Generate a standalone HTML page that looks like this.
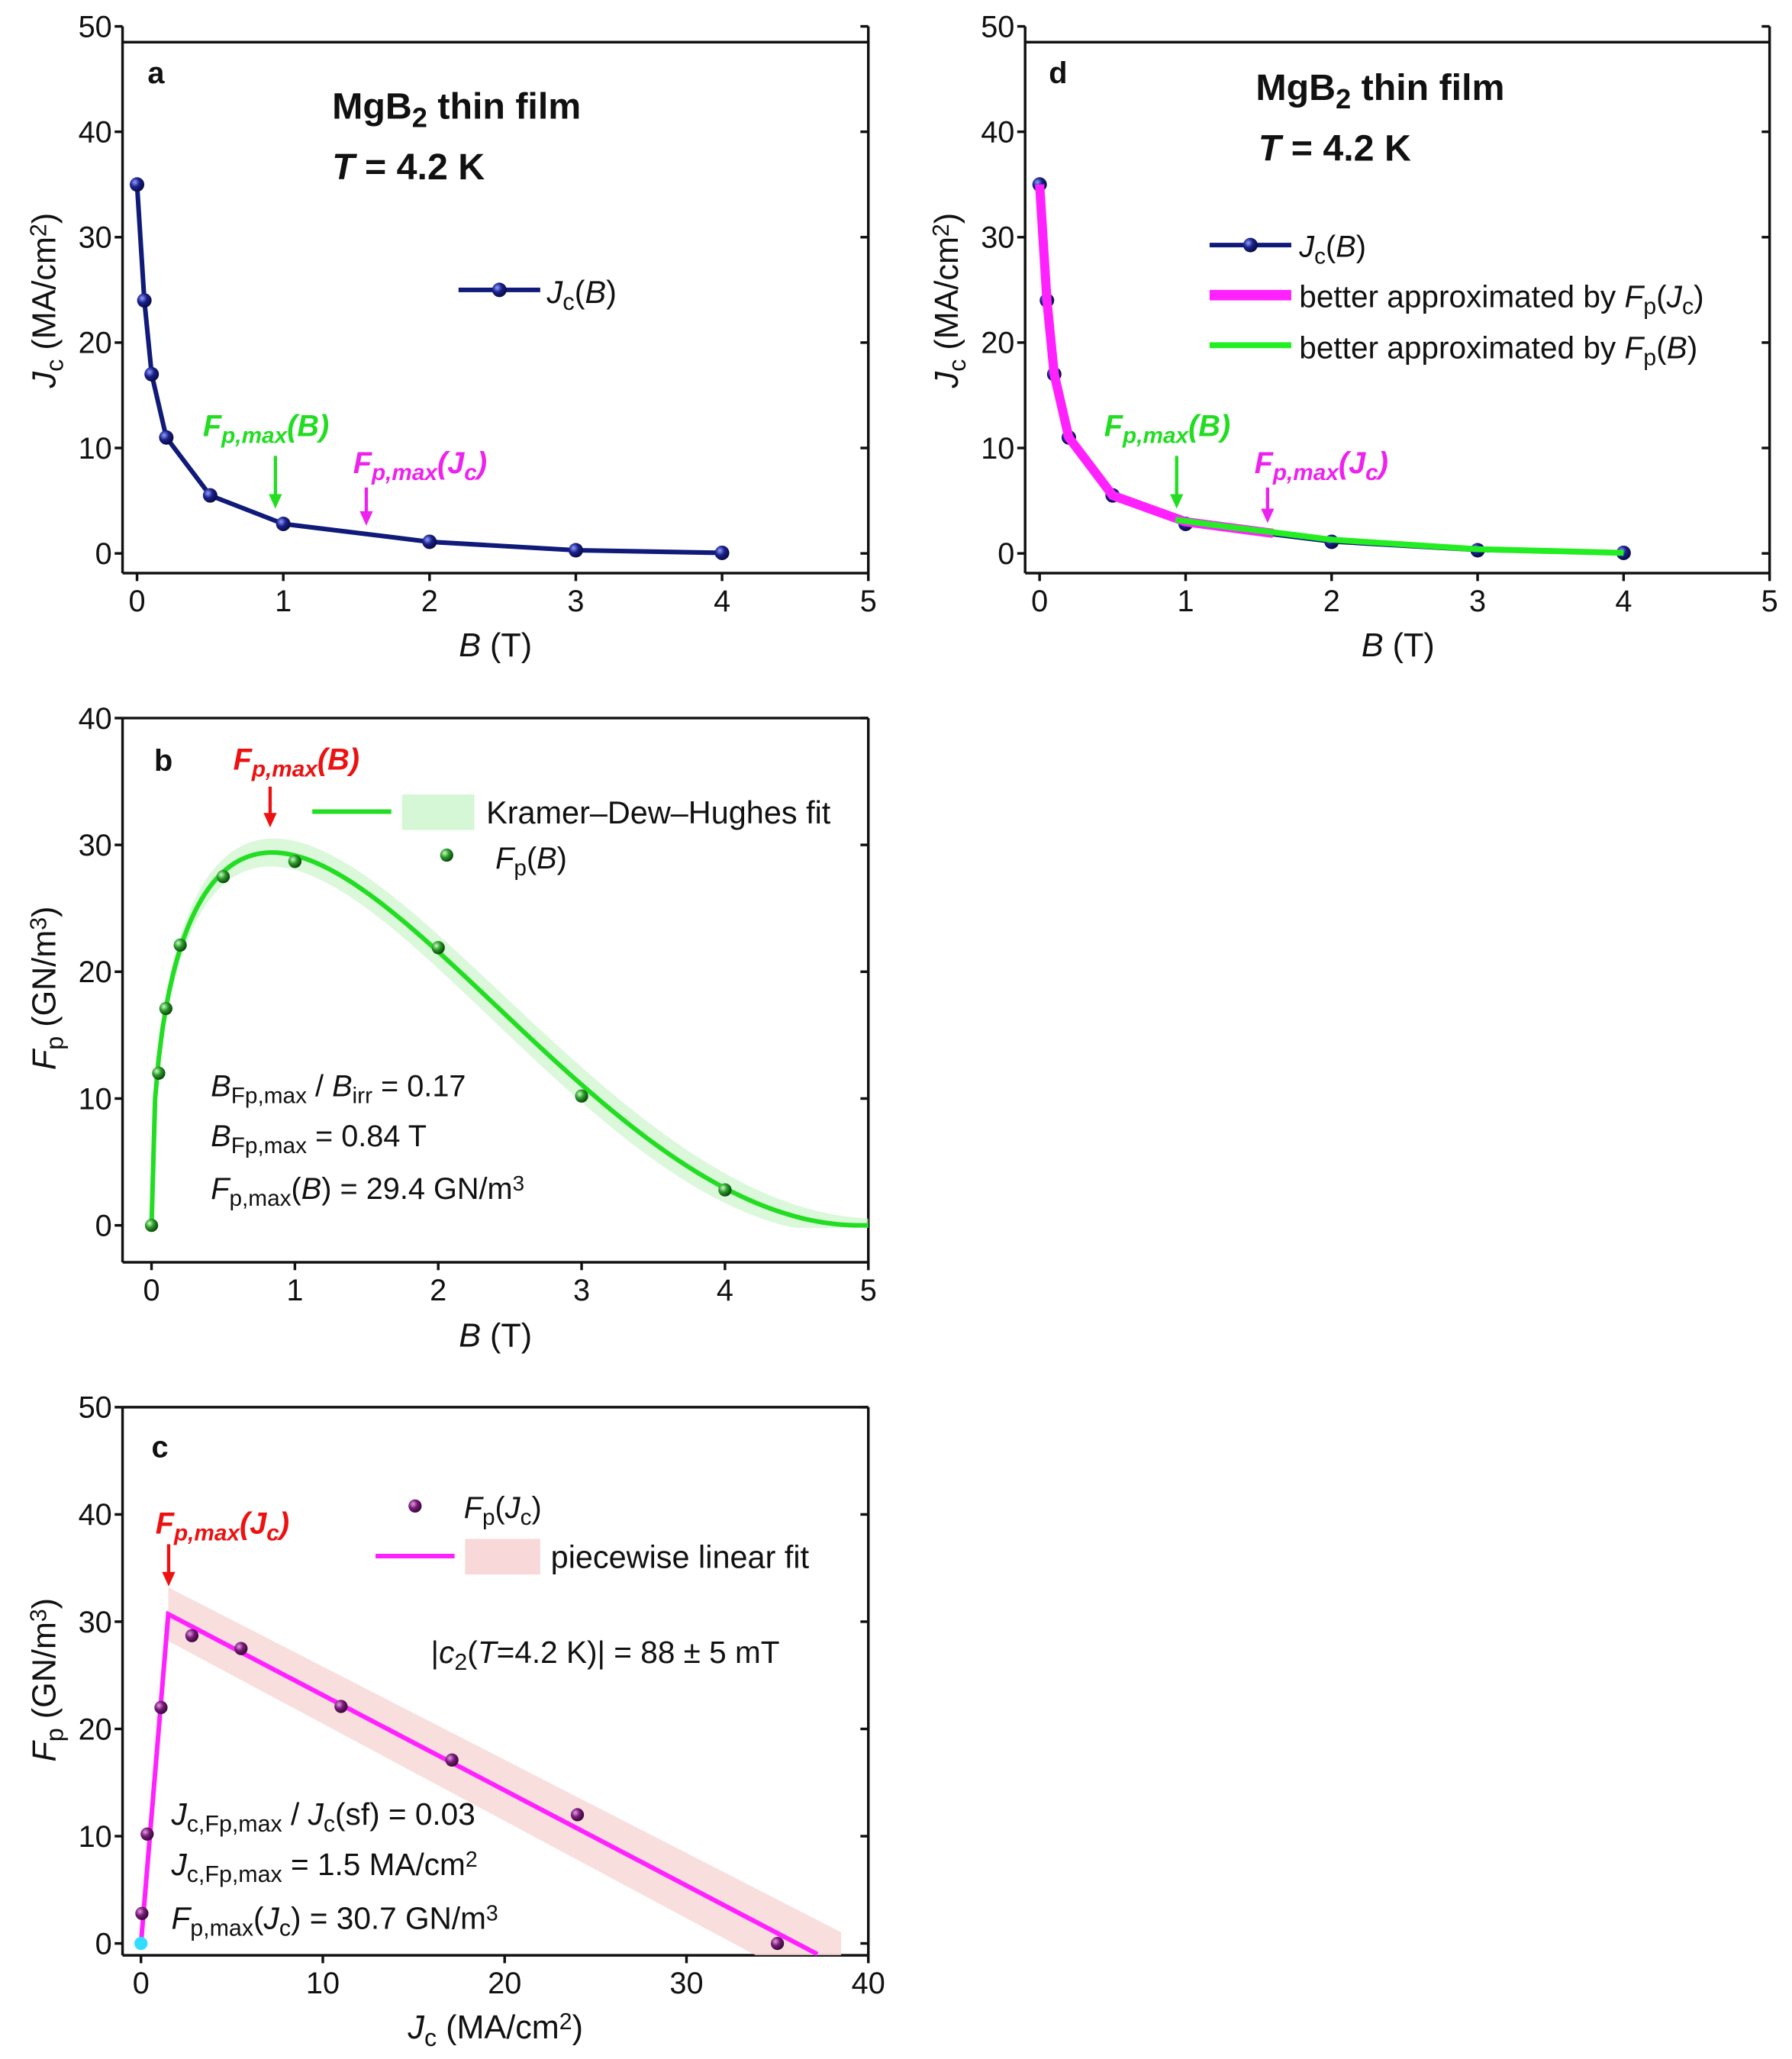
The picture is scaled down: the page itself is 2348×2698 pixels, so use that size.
<!DOCTYPE html>
<html><head><meta charset="utf-8"><style>
html,body{margin:0;padding:0;background:#fff}
svg{display:block}
text{font-family:"Liberation Sans",Arial,sans-serif;fill:#111}
</style></head><body>
<svg id="fig" width="2348" height="2698" viewBox="0 0 1360 1562.7" xmlns="http://www.w3.org/2000/svg">
<defs>
<radialGradient id="gNavy" cx="35%" cy="35%" r="65%"><stop offset="0" stop-color="#8fa0ff"/><stop offset="0.5" stop-color="#1a1f8a"/><stop offset="1" stop-color="#0a0d45"/></radialGradient>
<radialGradient id="gGreen" cx="35%" cy="35%" r="65%"><stop offset="0" stop-color="#c8ffc0"/><stop offset="0.5" stop-color="#2a9a2a"/><stop offset="1" stop-color="#0c4a0c"/></radialGradient>
<radialGradient id="gPurple" cx="35%" cy="35%" r="65%"><stop offset="0" stop-color="#e0a0e0"/><stop offset="0.5" stop-color="#7a1a7a"/><stop offset="1" stop-color="#3a0a3a"/></radialGradient>
</defs>
<g id="root"></g>
</svg>
<script>
// ---- data ----
const bField = [0, 0.05, 0.1, 0.2, 0.5, 1, 2, 3, 4];
const jcValues = [35, 24, 17, 11, 5.5, 2.8, 1.1, 0.3, 0.05];
const fpBValues = [0, 12, 17.1, 22.1, 27.5, 28.7, 21.9, 10.2, 2.8];
const jcC = [0, 0.05, 0.34, 1.1, 2.8, 5.5, 11, 17.1, 24, 35];
const fpC = [0, 2.8, 10.2, 22, 28.7, 27.5, 22.1, 17.1, 12, 0];
const magentaB = [0, 0.05, 0.1, 0.2, 0.5, 1, 1.6];
const magentaJ = [35, 24, 17, 11, 5.5, 3.0, 1.9];
const greenB = [0.93, 1.3, 1.6, 2, 3, 4];
const greenJ = [3.2, 2.5, 2.0, 1.3, 0.4, 0.05];
const kdhParams = [29.4, 4.94, 0.41, 2.0]; // Fmax, Birr, p, q
const pwlKnots = [0, 1.5, 37.2];
const pwlVals = [0, 30.7, -1];
const ticksA = [0,10,20,30,40,50];
const ticksB5 = [0,1,2,3,4,5];
const ticksBy = [0,10,20,30,40];
const ticksCx = [0,10,20,30,40];

const NS = "http://www.w3.org/2000/svg";
const root = document.getElementById('root');
function el(tag, attrs, parent, txt){
  const e = document.createElementNS(NS, tag);
  for (const k in attrs) e.setAttribute(k, attrs[k]);
  if (txt !== undefined) e.textContent = txt;
  (parent||root).appendChild(e);
  return e;
}
function lin(d0,d1,r0,r1){return v=>r0+(v-d0)*(r1-r0)/(d1-d0);}

function axes(g, o){
  el('line',{x1:o.left,y1:o.axTop,x2:o.left,y2:o.bottom,stroke:'#111','stroke-width':2},g);
  el('line',{x1:o.right,y1:o.axTop,x2:o.right,y2:o.bottom,stroke:'#111','stroke-width':2},g);
  el('line',{x1:o.left,y1:o.bottom,x2:o.right,y2:o.bottom,stroke:'#111','stroke-width':2},g);
  el('line',{x1:o.left,y1:o.top,x2:o.right,y2:o.top,stroke:'#111','stroke-width':2},g);
  o.yt.forEach(v=>{
    const y=o.ys(v);
    el('line',{x1:o.left-6,y1:y,x2:o.left,y2:y,stroke:'#111','stroke-width':2},g);
    el('line',{x1:o.right-6,y1:y,x2:o.right,y2:y,stroke:'#111','stroke-width':2},g);
    const t=el('text',{x:o.left-8,y:y+8,'text-anchor':'end','font-size':23},g,String(v));
    
    
  });
  o.xt.forEach(v=>{
    const x=o.xs(v);
    el('line',{x1:x,y1:o.bottom,x2:x,y2:o.bottom+6,stroke:'#111','stroke-width':2},g);
    const t=el('text',{x:x,y:o.bottom+29,'text-anchor':'middle','font-size':23},g,String(v));
    
    
  });
}
function rich(g, x, y, parts, attrs){
  const t=el('text',Object.assign({x:x,y:y},attrs||{}),g);
  parts.forEach(p=>{
    const s=el('tspan',{},t,p[0]);
    if(p[1]&&p[1].includes('i')) s.setAttribute('font-style','italic');
    if(p[1]&&p[1].includes('sub')){s.setAttribute('baseline-shift','-30%');s.setAttribute('font-size','0.75em');}
    if(p[1]&&p[1].includes('sup')){s.setAttribute('baseline-shift','40%');s.setAttribute('font-size','0.7em');}
  });
  return t;
}
function marker(g,x,y,fill,r){
  const c=el('circle',{cx:x,cy:y,r:r||5.5,fill:fill},g);
  
  
  return c;
}
function arrow(g,x,y1,y2,color){
  el('line',{x1:x,y1:y1,x2:x,y2:y2-9,stroke:color,'stroke-width':2.5},g);
  el('polygon',{points:`${x-5},${y2-11} ${x+5},${y2-11} ${x},${y2}`,fill:color},g);
}
function ytitle(g,x,cy,parts){
  return rich(g,0,0,parts,{'font-size':25,'text-anchor':'middle',transform:`translate(${x},${cy}) rotate(-90)`});
}

// ================= Panel a =================
(function(){
  const g=el('g',{});
  
  
  const xs=lin(0,5,104,659), ys=lin(0,50,420,20);
  axes(g,{left:93,right:659,top:32,axTop:20,bottom:435,xs,ys,xt:ticksB5,yt:ticksA});
  let d=bField.map((b,i)=>(i?'L':'M')+xs(b)+','+ys(jcValues[i])).join(' ');
  const p=el('path',{d:d,fill:'none',stroke:'#101a78','stroke-width':3.5},g);
  
  
  bField.forEach((b,i)=>marker(g,xs(b),ys(jcValues[i]),'url(#gNavy)'));
  el('text',{x:112,y:63,'font-size':23,'font-weight':'bold'},g,'a');
  rich(g,252,90,[['MgB'],['2','sub'],[' thin film']],{'font-size':28,'font-weight':'bold'});
  rich(g,252,136,[['T','i'],[' = 4.2 K']],{'font-size':28,'font-weight':'bold'});
  el('line',{x1:348,y1:220,x2:410,y2:220,stroke:'#101a78','stroke-width':3.5},g);
  marker(g,379,220,'url(#gNavy)');
  rich(g,415,230,[['J','i'],['c','sub'],['('],['B','i'],[')']],{'font-size':24});
  rich(g,154,331,[['F'],['p,max','sub'],['('],['B'],[')']],{'font-size':23,'font-weight':'bold','font-style':'italic'}).setAttribute('style','fill:#22dd22');
  rich(g,268,359,[['F'],['p,max','sub'],['('],['J'],['c','sub'],[')']],{'font-size':23,'font-weight':'bold','font-style':'italic'}).setAttribute('style','fill:#ee22ee');
  arrow(g,209,346,386,'#22dd22');
  arrow(g,278,370,399,'#ee22ee');
  ytitle(g,42,228,[['J','i'],['c','sub'],[' (MA/cm'],['2','sup'],[')']]);
  rich(g,376,498,[['B','i'],[' (T)']],{'font-size':25,'text-anchor':'middle'});
})();

// ================= Panel d =================
(function(){
  const g=el('g',{});
  
  
  const xs=lin(0,5,789,1343), ys=lin(0,50,420,20);
  axes(g,{left:778,right:1343,top:32,axTop:20,bottom:435,xs,ys,xt:ticksB5,yt:ticksA});
  let d=bField.map((b,i)=>(i?'L':'M')+xs(b)+','+ys(jcValues[i])).join(' ');
  el('path',{d:d,fill:'none',stroke:'#101a78','stroke-width':3},g);
  bField.forEach((b,i)=>marker(g,xs(b),ys(jcValues[i]),'url(#gNavy)'));
  let dm=magentaB.map((b,i)=>(i?'L':'M')+xs(b)+','+ys(magentaJ[i])).join(' ');
  const pm=el('path',{d:dm,fill:'none',stroke:'#ff22ff','stroke-width':7,'stroke-linejoin':'round'},g);
  
  
  let dg=greenB.map((b,i)=>(i?'L':'M')+xs(b)+','+ys(greenJ[i])).join(' ');
  const pg=el('path',{d:dg,fill:'none',stroke:'#22ee22','stroke-width':4.5,'stroke-linejoin':'round'},g);
  
  
  el('text',{x:796,y:63,'font-size':23,'font-weight':'bold'},g,'d');
  rich(g,953,76,[['MgB'],['2','sub'],[' thin film']],{'font-size':28,'font-weight':'bold'});
  rich(g,955,122,[['T','i'],[' = 4.2 K']],{'font-size':28,'font-weight':'bold'});
  el('line',{x1:918,y1:186,x2:980,y2:186,stroke:'#101a78','stroke-width':3.5},g);
  marker(g,949,186,'url(#gNavy)');
  rich(g,986,195,[['J','i'],['c','sub'],['('],['B','i'],[')']],{'font-size':23});
  el('line',{x1:918,y1:224,x2:980,y2:224,stroke:'#ff22ff','stroke-width':8},g);
  rich(g,986,233,[['better approximated by '],['F','i'],['p','sub'],['('],['J','i'],['c','sub'],[')']],{'font-size':23.5});
  el('line',{x1:918,y1:262,x2:980,y2:262,stroke:'#22ee22','stroke-width':4.5},g);
  rich(g,986,272,[['better approximated by '],['F','i'],['p','sub'],['('],['B','i'],[')']],{'font-size':23.5});
  rich(g,838,331,[['F'],['p,max','sub'],['('],['B'],[')']],{'font-size':23,'font-weight':'bold','font-style':'italic'}).setAttribute('style','fill:#22dd22');
  rich(g,952,359,[['F'],['p,max','sub'],['('],['J'],['c','sub'],[')']],{'font-size':23,'font-weight':'bold','font-style':'italic'}).setAttribute('style','fill:#ee22ee');
  arrow(g,893,346,386,'#22dd22');
  arrow(g,962,370,397,'#ee22ee');
  ytitle(g,727,228,[['J','i'],['c','sub'],[' (MA/cm'],['2','sup'],[')']]);
  rich(g,1061,498,[['B','i'],[' (T)']],{'font-size':25,'text-anchor':'middle'});
})();

// ================= Panel b =================
(function(){
  const g=el('g',{});
  
  
  const xs=lin(0,5,115,659), ys=lin(0,40,930,545);
  axes(g,{left:93,right:659,top:545,axTop:545,bottom:958,xs,ys,xt:ticksB5,yt:ticksBy});
  const [Fm,Birr,p,q]=kdhParams;
  const bp=p/(p+q);
  const norm=Math.pow(bp,p)*Math.pow(1-bp,q);
  const f=B=>{const b=B/Birr; if(b<=0||b>=1) return 0; return Fm*Math.pow(b,p)*Math.pow(1-b,q)/norm;};
  const N=200, up=[], lo=[], mid=[];
  for(let i=0;i<=N;i++){const B=5*i/N; const v=f(B); const w=(0.9+0.25*B)*(1-0.75*Math.pow(B/5,3)); up.push([B,v+w]); lo.push([B,Math.max(v-w,-0.2)]); mid.push([B,v]);}
  let band='M'+up.map(a=>xs(a[0])+','+ys(a[1])).join(' L')+' L'+lo.reverse().map(a=>xs(a[0])+','+ys(a[1])).join(' L')+'Z';
  const pb=el('path',{d:band,fill:'#c8f5c8','fill-opacity':0.65},g);
  
  
  const pl=el('path',{d:'M'+mid.map(a=>xs(a[0])+','+ys(a[1])).join(' L'),fill:'none',stroke:'#22dd22','stroke-width':3.5},g);
  
  
  bField.forEach((b,i)=>marker(g,xs(b),ys(fpBValues[i]),'url(#gGreen)',5));
  el('text',{x:117,y:585,'font-size':23,'font-weight':'bold'},g,'b');
  rich(g,177,584,[['F'],['p,max','sub'],['('],['B'],[')']],{'font-size':23,'font-weight':'bold','font-style':'italic'}).setAttribute('style','fill:#ee1111');
  arrow(g,205,597,628,'#ee1111');
  el('line',{x1:237,y1:616,x2:297,y2:616,stroke:'#22dd22','stroke-width':3.5},g);
  el('rect',{x:305,y:603,width:55,height:27,fill:'#d5f7d5'},g);
  el('text',{x:369,y:625,'font-size':24},g,'Kramer–Dew–Hughes fit');
  marker(g,339,649,'url(#gGreen)',5);
  rich(g,376,659,[['F','i'],['p','sub'],['('],['B','i'],[')']],{'font-size':23});
  rich(g,160,832,[['B','i'],['Fp,max','sub'],[' / '],['B','i'],['irr','sub'],[' = 0.17']],{'font-size':23});
  rich(g,160,870,[['B','i'],['Fp,max','sub'],[' = 0.84 T']],{'font-size':23});
  rich(g,160,910,[['F','i'],['p,max','sub'],['('],['B','i'],[') = 29.4 GN/m'],['3','sup']],{'font-size':23});
  ytitle(g,42,750,[['F','i'],['p','sub'],[' (GN/m'],['3','sup'],[')']]);
  rich(g,376,1022,[['B','i'],[' (T)']],{'font-size':25,'text-anchor':'middle'});
})();

// ================= Panel c =================
(function(){
  const g=el('g',{});
  
  
  const xs=lin(0,40,107,659), ys=lin(0,50,1475,1068);
  axes(g,{left:93,right:659,top:1068,axTop:1068,bottom:1484,xs,ys,xt:ticksCx,yt:ticksA});
  const k1=pwlKnots[1], v1=pwlVals[1];
  const slope=(pwlVals[2]-v1)/(pwlKnots[2]-k1);
  const lineAt=x=>v1+slope*(x-k1);
  const xe=38.5;
  let bd=`M${xs(k1)},${ys(v1+2.5)} L${xs(xe)},${ys(lineAt(xe)+3.2)} L${xs(xe)},${ys(-1.1)} L${xs(33.8)},${ys(-1.1)} L${xs(k1)},${ys(v1-2.5)} Z`;
  const pb=el('path',{d:bd,fill:'#f8d8d8','fill-opacity':0.85},g);
  
  
  const dl=pwlKnots.map((k,i)=>(i?'L':'M')+xs(k)+','+ys(pwlVals[i])).join(' ');
  const pl=el('path',{d:dl,fill:'none',stroke:'#ff22ff','stroke-width':3.5},g);
  
  
  jcC.forEach((j,i)=>marker(g,xs(j),ys(fpC[i]),i===0?'#33ddff':'url(#gPurple)',5));
  el('text',{x:115,y:1106,'font-size':23,'font-weight':'bold'},g,'c');
  rich(g,118,1164,[['F'],['p,max','sub'],['('],['J'],['c','sub'],[')']],{'font-size':23,'font-weight':'bold','font-style':'italic'}).setAttribute('style','fill:#ee1111');
  arrow(g,128,1172,1204,'#ee1111');
  marker(g,315,1143,'url(#gPurple)',5);
  rich(g,352,1152,[['F','i'],['p','sub'],['('],['J','i'],['c','sub'],[')']],{'font-size':23});
  el('line',{x1:285,y1:1181,x2:345,y2:1181,stroke:'#ff22ff','stroke-width':3.5},g);
  el('rect',{x:353,y:1168,width:57,height:27,fill:'#f8d8d8'},g);
  el('text',{x:418,y:1190,'font-size':24},g,'piecewise linear fit');
  rich(g,327,1262,[['|'],['c','i'],['2','sub'],['('],['T','i'],['=4.2 K)| = 88 ± 5 mT']],{'font-size':23.5});
  rich(g,130,1385,[['J','i'],['c,Fp,max','sub'],[' / '],['J','i'],['c','sub'],['(sf) = 0.03']],{'font-size':23.5});
  rich(g,130,1423,[['J','i'],['c,Fp,max','sub'],[' = 1.5 MA/cm'],['2','sup']],{'font-size':23.5});
  rich(g,130,1464,[['F','i'],['p,max','sub'],['('],['J','i'],['c','sub'],[') = 30.7 GN/m'],['3','sup']],{'font-size':23.5});
  ytitle(g,42,1275,[['F','i'],['p','sub'],[' (GN/m'],['3','sup'],[')']]);
  rich(g,376,1547,[['J','i'],['c','sub'],[' (MA/cm'],['2','sup'],[')']],{'font-size':25,'text-anchor':'middle'});
})();
</script>
</body></html>
